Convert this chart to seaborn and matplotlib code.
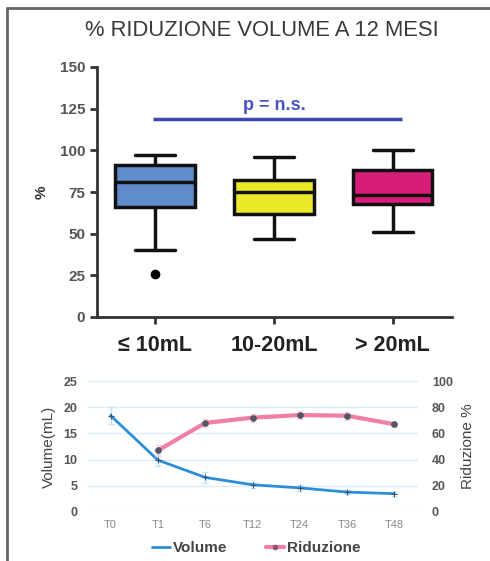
import numpy as np
import pandas as pd
import seaborn as sns
import matplotlib.pyplot as plt
from matplotlib.lines import Line2D

# box plot: five-number summaries
groups = ['≤ 10mL', '10-20mL', '> 20mL']
box_lo = [40, 47, 51]
box_q1 = [66, 62, 68]
box_med = [81, 75, 73]
box_q3 = [91, 82, 88]
box_hi = [97, 96, 100]
outlier_group = ['≤ 10mL']
outlier_val = [26]
box_colors = ['#5f8ccb', '#ece928', '#d81d79']

# follow-up line chart
times = ['T0', 'T1', 'T6', 'T12', 'T24', 'T36', 'T48']
volume = [18.4, 9.9, 6.6, 5.2, 4.6, 3.8, 3.5]
volume_err = [1.6, 1.2, 1.0, 0.6, 0.6, 0.4, 0.4]
riduzione = [np.nan, 47, 68, 72, 74, 73.5, 67]
riduzione_err = [np.nan, 4, 3, 3, 3, 3, 2]


def main():
    sns.set_style('white')
    plt.rcParams['font.family'] = ['Liberation Sans', 'DejaVu Sans']

    fig = plt.figure(figsize=(4.9, 5.61), dpi=100)
    W, H = 490, 561

    # outer frame (left and top edges only)
    fig.add_artist(Line2D([7 / W, 7 / W], [0, 1 - 8 / H], color='#666666', lw=2))
    fig.add_artist(Line2D([7 / W, 1], [1 - 8 / H, 1 - 8 / H], color='#666666', lw=2))

    fig.text(262 / W, 1 - 30 / H, '% RIDUZIONE VOLUME A 12 MESI', ha='center',
             va='center', fontsize=15.8, color='#3a3a3a')

    # ---- top: box plot ----
    ax = fig.add_axes([97 / W, 1 - 317 / H, 355 / W, 250 / H])
    rows = []
    for i, g in enumerate(groups):
        for v in [box_lo[i], box_q1[i], box_med[i], box_q3[i], box_hi[i]]:
            rows.append({'group': g, 'val': v})
    df = pd.DataFrame(rows)
    sns.boxplot(data=df, x='group', y='val', hue='group', order=groups,
                palette=box_colors, width=0.67, whis=(0, 100), linewidth=2.5,
                linecolor='#111111', fliersize=0, legend=False, saturation=1,
                ax=ax)
    sns.stripplot(x=outlier_group, y=outlier_val, order=groups, jitter=False,
                  color='black', size=7, ax=ax)

    ax.hlines(119, -0.02, 2.08, color='#3d48b3', lw=2.5)
    ax.text(1, 121.5, 'p = n.s.', ha='center', va='bottom', color='#4a52c0',
            fontsize=13, fontweight='bold')

    ax.set_xlim(-0.49, 2.5)
    ax.set_ylim(0, 150)
    ax.set_yticks(range(0, 151, 25))
    ax.set_xlabel('')
    ax.set_ylabel('%', fontsize=11, fontweight='bold', color='#333333',
                  labelpad=8)
    sns.despine(ax=ax)
    for s in ['left', 'bottom']:
        ax.spines[s].set_color('#333333')
        ax.spines[s].set_linewidth(2)
    ax.tick_params(axis='both', direction='out', length=5, width=2,
                   color='#333333', bottom=True, left=True)
    ax.tick_params(axis='y', labelsize=11, labelcolor='#555555')
    ax.tick_params(axis='x', labelsize=15.5, labelcolor='#222222', pad=8)
    for lab in ax.get_yticklabels() + ax.get_xticklabels():
        lab.set_fontweight('bold')

    # ---- bottom: volume / riduzione lines ----
    bx = fig.add_axes([87 / W, 1 - 512 / H, 331 / W, 131 / H])
    pos = np.arange(len(times))
    bx.errorbar(pos, volume, yerr=volume_err, fmt='none', ecolor='#c9e1f3',
                elinewidth=1, capsize=2, zorder=1)
    sns.lineplot(x=pos, y=volume, color='#2a8fd8', lw=2, marker='+',
                 markersize=5, markeredgecolor='#335577', ax=bx, zorder=3)
    bx.set_ylim(0, 25)
    bx.set_yticks(range(0, 26, 5))
    bx.set_xlim(-0.5, 6.5)
    bx.set_xticks(pos)
    bx.set_xticklabels(times)
    bx.grid(axis='y', color='#dcebf8', lw=1)
    bx.set_ylabel('Volume(mL)', fontsize=11, color='#444444', labelpad=5)

    rx = bx.twinx()
    rx.errorbar(pos, riduzione, yerr=riduzione_err, fmt='none',
                ecolor='#f8d3df', elinewidth=1, capsize=2, zorder=1)
    sns.lineplot(x=pos, y=riduzione, color='#f07ea6', lw=3, marker='o',
                 markersize=4, markerfacecolor='#555566',
                 markeredgecolor='#555566', ax=rx, zorder=3)
    rx.set_ylim(0, 100)
    rx.set_yticks(range(0, 101, 20))
    rx.set_ylabel('Riduzione %', fontsize=11, color='#444444', rotation=90,
                  labelpad=6)

    for a in (bx, rx):
        for s in a.spines.values():
            s.set_visible(False)
        a.tick_params(length=0, labelsize=9, labelcolor='#555555')
    bx.tick_params(axis='y', pad=7)
    bx.tick_params(axis='x', labelsize=8, labelcolor='#888888', pad=6)
    rx.tick_params(axis='y', pad=10)
    for lab in bx.get_yticklabels() + rx.get_yticklabels():
        lab.set_fontweight('bold')

    handles = [Line2D([], [], color='#2a8fd8', lw=2),
               Line2D([], [], color='#f07ea6', lw=3, marker='o', markersize=3,
                      markerfacecolor='#8a5577', markeredgecolor='#8a5577')]
    fig.legend(handles, ['Volume', 'Riduzione'], loc='center',
               bbox_to_anchor=(256 / W, 1 - 548 / H), ncol=2, frameon=False,
               handlelength=1.2, handletextpad=0.2, columnspacing=2.5,
               prop={'size': 11, 'weight': 'bold'}, labelcolor='#444444')

    plt.savefig('out.png', dpi=100)


if __name__ == "__main__":
    main()
